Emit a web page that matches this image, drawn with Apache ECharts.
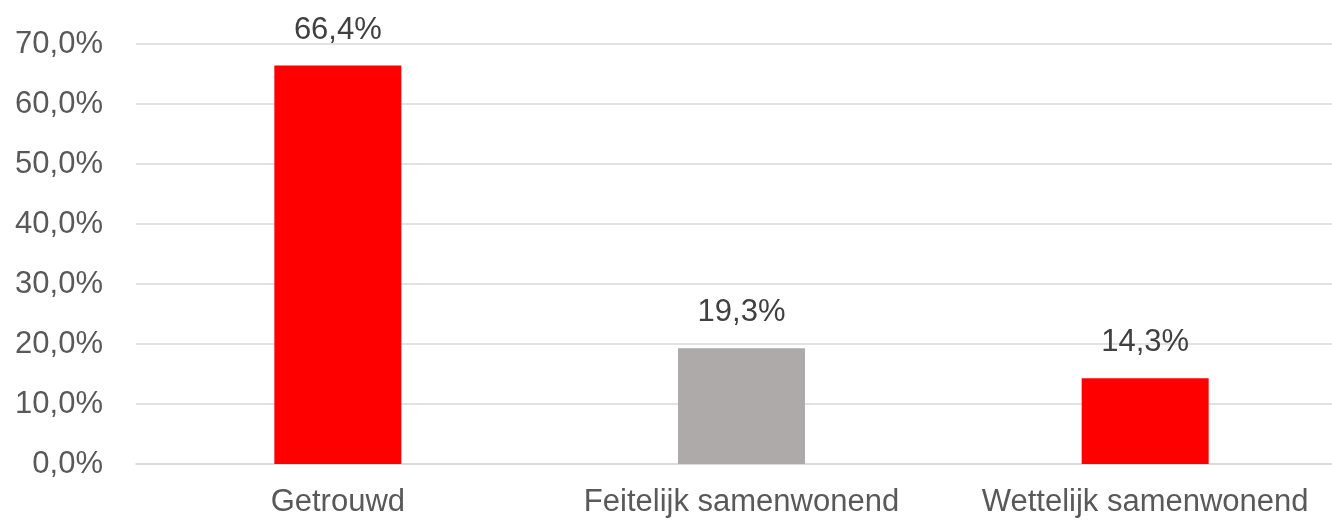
<!DOCTYPE html>
<html>
<head>
<meta charset="utf-8">
<script src="https://cdn.jsdelivr.net/npm/echarts@6/dist/echarts.min.js"></script>
<style>
  html, body { margin: 0; padding: 0; background: #fff; overflow: hidden; }
  /* plot loopt rechts iets buiten beeld door, daarom breder dan het venster */
  #chart { width: 1347px; height: 520px; }
</style>
</head>
<body>
<div id="chart"></div>
<script>
// categorieën en waarden (percentages)
var categories = ['Getrouwd', 'Feitelijk samenwonend', 'Wettelijk samenwonend'];
var values = [66.4, 19.3, 14.3];
var barColors = ['#FF0000', '#AEAAAA', '#FF0000'];

function pct(v) {
  return v.toFixed(1).replace('.', ',') + '%';
}

var chart = echarts.init(document.getElementById('chart'));
chart.setOption({
  animation: false,
  textStyle: { fontFamily: 'Liberation Sans, Arial, sans-serif' },
  grid: { left: 136, right: 0, top: 44, bottom: 56, containLabel: false },
  xAxis: {
    type: 'category',
    data: categories,
    axisTick: { show: false },
    axisLine: { lineStyle: { color: '#D9D9D9', width: 1.5 } },
    axisLabel: { color: '#595959', fontSize: 31, margin: 23, interval: 0, hideOverlap: false }
  },
  yAxis: {
    type: 'value',
    min: 0,
    max: 70,
    interval: 10,
    axisLine: { show: false },
    axisTick: { show: false },
    splitLine: { lineStyle: { color: '#D9D9D9', width: 1.5 } },
    axisLabel: {
      color: '#595959',
      fontSize: 31,
      margin: 33,
      formatter: function (v) { return pct(v); }
    }
  },
  series: [{
    type: 'bar',
    barWidth: 127,
    data: values.map(function (v, i) {
      return { value: v, itemStyle: { color: barColors[i] } };
    }),
    label: {
      show: true,
      position: 'top',
      distance: 20,
      color: '#404040',
      fontSize: 31,
      formatter: function (p) { return pct(p.value); }
    }
  }]
});
</script>
</body>
</html>
